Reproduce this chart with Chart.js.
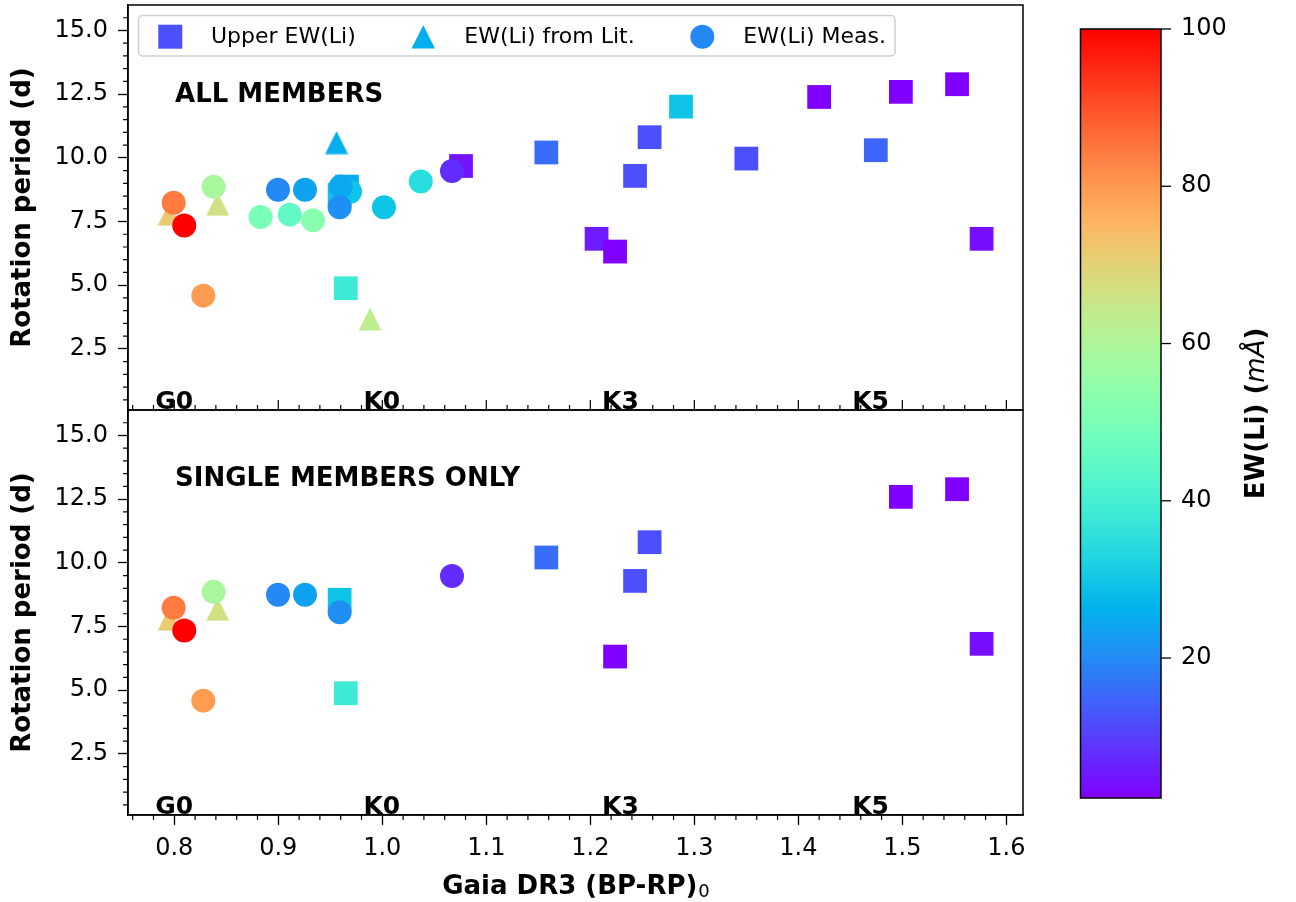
<!DOCTYPE html>
<html>
<head>
<meta charset="utf-8">
<title>Rotation period vs Gaia colour</title>
<script src="https://cdn.jsdelivr.net/npm/chart.js@4.4.1/dist/chart.umd.min.js"></script>
<style>
  html, body { margin: 0; padding: 0; background: #fff; }
  #chart { display: block; }
</style>
</head>
<body>
<canvas id="chart" width="1296" height="902"></canvas>
<script>
// ==================================================
// DATA
// ==================================================
// ALL MEMBERS - upper limits on EW(Li) (squares)
const allUpperX  = [1.243, 1.257, 1.350, 1.4745, 1.1577, 1.0757, 1.2872, 0.959, 0.966, 0.9649, 1.206, 1.2238, 1.420, 1.4986, 1.5526, 1.5762];
const allUpperY  = [9.29, 10.81, 9.97, 10.30, 10.21, 9.68, 12.01, 8.55, 8.87, 4.88, 6.82, 6.32, 12.39, 12.59, 12.89, 6.82];
const allUpperEW = [12, 12, 12, 14.9, 15.9, 4.6, 29.6, 29.6, 25.2, 38.4, 5.6, 2.2, 2.2, 2.2, 2.2, 4];

// ALL MEMBERS - EW(Li) from literature (triangles)
const allLitX  = [0.956, 0.795, 0.8417, 0.9882];
const allLitY  = [10.60, 7.79, 8.18, 3.67];
const allLitEW = [25.7, 71.6, 66.7, 62.8];

// ALL MEMBERS - measured EW(Li) (circles)
const allMeasX  = [0.8997, 0.9257, 0.883, 0.911, 0.9334, 0.8379, 0.7994, 0.8096, 0.8279, 0.969, 0.96, 0.959, 1.0016, 1.037, 1.067];
const allMeasY  = [8.75, 8.75, 7.68, 7.77, 7.55, 8.86, 8.24, 7.34, 4.59, 8.67, 8.87, 8.06, 8.06, 9.07, 9.48];
const allMeasEW = [19.8, 23.7, 50.1, 45.2, 53, 58.9, 84.4, 100, 79.5, 29.6, 24.7, 20.8, 29.6, 34.5, 7.6];

// SINGLE MEMBERS ONLY
const singleUpperX  = [1.243, 1.257, 1.1577, 0.959, 0.9649, 1.2238, 1.4986, 1.5526, 1.5762];
const singleUpperY  = [9.29, 10.81, 10.21, 8.55, 4.88, 6.32, 12.59, 12.89, 6.82];
const singleUpperEW = [12, 12, 15.9, 29.6, 38.4, 2.2, 2.2, 2.2, 4];

const singleLitX  = [0.795, 0.8417];
const singleLitY  = [7.79, 8.18];
const singleLitEW = [71.6, 66.7];

const singleMeasX  = [0.8997, 0.9257, 0.8379, 0.7994, 0.8096, 0.8279, 0.959, 1.067];
const singleMeasY  = [8.75, 8.75, 8.86, 8.24, 7.34, 4.59, 8.06, 9.48];
const singleMeasEW = [19.8, 23.7, 58.9, 84.4, 100, 79.5, 20.8, 7.6];

// axes / labels
const xTicks = [0.8, 0.9, 1.0, 1.1, 1.2, 1.3, 1.4, 1.5, 1.6];
const yTicks = [2.5, 5.0, 7.5, 10.0, 12.5, 15.0];
const xMin = 0.7555, xMax = 1.616;
const yMin = 0.1, yMax = 16;

const spTypes = ["G0", "K0", "K3", "K5"];
const spX = [0.80, 0.9995, 1.229, 1.4695];
const spY = 0.15;

const legendLabels = ["Upper EW(Li)", "EW(Li) from Lit.", "EW(Li) Meas."];

const cbTicks = [20, 40, 60, 80, 100];
const ewMin = 2.2, ewMax = 100;

const FONT = "'DejaVu Sans', sans-serif";

// ==================================================
// HELPERS
// ==================================================
// matplotlib "rainbow" colormap
function rainbow(t) {
  t = Math.max(0, Math.min(1, t));
  const cl = (v) => Math.round(255 * Math.max(0, Math.min(1, v)));
  const r = Math.abs(2 * t - 0.5);
  const g = Math.sin(Math.PI * t);
  const b = Math.cos((Math.PI * t) / 2);
  return `rgb(${cl(r)},${cl(g)},${cl(b)})`;
}
const ewColor = (ew) => rainbow((ew - ewMin) / (ewMax - ewMin));

// matplotlib-like "^" marker (width == height, centred on its box)
function triImg(color) {
  const s = 24;
  const c = document.createElement("canvas");
  c.width = s;
  c.height = s;
  const g = c.getContext("2d");
  g.fillStyle = color;
  g.beginPath();
  g.moveTo(s / 2, 0.5);
  g.lineTo(s - 0.5, s - 0.5);
  g.lineTo(0.5, s - 0.5);
  g.closePath();
  g.fill();
  return c;
}

const toPoints = (xs, ys) => xs.map((x, i) => ({ x: x, y: ys[i] }));

function upperSet(xs, ys, ews, axis) {
  const colors = ews.map(ewColor);
  return {
    label: legendLabels[0], yAxisID: axis, order: 3,
    data: toPoints(xs, ys),
    pointStyle: "rect", pointRadius: 16.8, pointBorderWidth: 0,
    pointBackgroundColor: colors, pointBorderColor: colors,
  };
}
function litSet(xs, ys, ews, axis) {
  const colors = ews.map(ewColor);
  return {
    label: legendLabels[1], yAxisID: axis, order: 2,
    data: toPoints(xs, ys),
    pointStyle: colors.map(triImg), pointRadius: 12, pointBorderWidth: 0,
    pointBackgroundColor: colors, pointBorderColor: colors,
  };
}
function measSet(xs, ys, ews, axis) {
  const colors = ews.map(ewColor);
  return {
    label: legendLabels[2], yAxisID: axis, order: 1,
    data: toPoints(xs, ys),
    pointStyle: "circle", pointRadius: 12, pointBorderWidth: 0,
    pointBackgroundColor: colors, pointBorderColor: colors,
  };
}

// ==================================================
// PLUGIN: frames, minor ticks, texts, legend, colorbar
// ==================================================
const decorPlugin = {
  id: "decor",
  afterDatasetsDraw(chart) {
    const { ctx, chartArea: a, scales } = chart;
    const x = scales.x, yTop = scales.yTop, yBot = scales.yBot;
    ctx.save();

    // panel frames
    ctx.strokeStyle = "#000";
    ctx.lineWidth = 1.5;
    ctx.strokeRect(a.left, yTop.top, a.right - a.left, yTop.bottom - yTop.top);
    ctx.strokeRect(a.left, yBot.top, a.right - a.left, yBot.bottom - yBot.top);

    // minor y ticks
    ctx.lineWidth = 1.2;
    ctx.beginPath();
    [yTop, yBot].forEach((ys) => {
      for (let i = 1; i < 32; i++) {
        if (i % 5 === 0) continue;
        const py = ys.getPixelForValue(i * 0.5);
        ctx.moveTo(a.left - 5, py);
        ctx.lineTo(a.left, py);
      }
    });
    // minor x ticks (bottom axis and between the panels)
    for (let i = 38; i <= 80; i++) {
      if (i % 5 === 0) continue;
      const px = x.getPixelForValue(i * 0.02);
      ctx.moveTo(px, a.bottom);
      ctx.lineTo(px, a.bottom + 5);
      ctx.moveTo(px, yTop.bottom);
      ctx.lineTo(px, yTop.bottom - 5);
    }
    xTicks.forEach((v) => {
      const px = x.getPixelForValue(v);
      ctx.moveTo(px, yTop.bottom);
      ctx.lineTo(px, yTop.bottom - 10);
    });
    ctx.stroke();

    // panel titles
    ctx.fillStyle = "#000";
    ctx.font = `bold 26px ${FONT}`;
    ctx.textAlign = "left";
    ctx.textBaseline = "alphabetic";
    ctx.fillText("ALL MEMBERS", x.getPixelForValue(0.8007), yTop.getPixelForValue(12.2));
    ctx.fillText("SINGLE MEMBERS ONLY", x.getPixelForValue(0.8007), yBot.getPixelForValue(13.03));

    // spectral types
    ctx.font = `bold 25px ${FONT}`;
    ctx.textAlign = "center";
    [yTop, yBot].forEach((ys) => {
      spTypes.forEach((s, i) => {
        ctx.fillText(s, x.getPixelForValue(spX[i]), ys.getPixelForValue(spY));
      });
    });

    // x axis title with a real subscript
    const main = "Gaia DR3 (BP-RP)", sub = "0";
    ctx.font = `bold 26px ${FONT}`;
    const wMain = ctx.measureText(main).width;
    ctx.font = `18px ${FONT}`;
    const wSub = ctx.measureText(sub).width;
    const tx = (a.left + a.right) / 2 - (wMain + wSub) / 2;
    const ty = 894;
    ctx.textAlign = "left";
    ctx.font = `bold 26px ${FONT}`;
    ctx.fillText(main, tx, ty);
    ctx.font = `18px ${FONT}`;
    ctx.fillText(sub, tx + wMain + 1, ty + 3);

    // legend
    const lx = 138.5, ly = 15.5, lw = 756.5, lh = 40.5;
    ctx.beginPath();
    ctx.roundRect(lx, ly, lw, lh, 4);
    ctx.fillStyle = "rgba(255,255,255,0.8)";
    ctx.fill();
    ctx.strokeStyle = "#d0d0d0";
    ctx.lineWidth = 1.5;
    ctx.stroke();
    const my = 36.7;
    const sets = chart.data.datasets;
    // square
    ctx.fillStyle = sets[0].pointBackgroundColor[0];
    ctx.fillRect(170.3 - 12, my - 12, 24, 24);
    // triangle
    ctx.fillStyle = sets[1].pointBackgroundColor[0];
    ctx.beginPath();
    ctx.moveTo(423.3, my - 11.7);
    ctx.lineTo(423.3 + 11.7, my + 11.7);
    ctx.lineTo(423.3 - 11.7, my + 11.7);
    ctx.closePath();
    ctx.fill();
    // circle
    ctx.fillStyle = sets[2].pointBackgroundColor[0];
    ctx.beginPath();
    ctx.arc(702.3, my, 12, 0, Math.PI * 2);
    ctx.fill();
    ctx.fillStyle = "#000";
    ctx.font = `22px ${FONT}`;
    ctx.textAlign = "left";
    ctx.textBaseline = "alphabetic";
    ctx.fillText(legendLabels[0], 211, 43.3);
    ctx.fillText(legendLabels[1], 464.3, 43.3);
    ctx.fillText(legendLabels[2], 743.3, 43.3);

    ctx.restore();
  },

  afterDraw(chart) {
    const { ctx } = chart;
    // colorbar
    const cx = 1080.5, cy = 29, cw = 80.5, ch = 769;
    const valToY = (v) => cy + ch - ((v - ewMin) / (ewMax - ewMin)) * ch;
    ctx.save();
    const grad = ctx.createLinearGradient(0, cy + ch, 0, cy);
    for (let i = 0; i <= 64; i++) grad.addColorStop(i / 64, rainbow(i / 64));
    ctx.fillStyle = grad;
    ctx.fillRect(cx, cy, cw, ch);
    ctx.strokeStyle = "#000";
    ctx.lineWidth = 1.5;
    ctx.strokeRect(cx, cy, cw, ch);

    ctx.lineWidth = 1.3;
    ctx.fillStyle = "#000";
    ctx.font = `24px ${FONT}`;
    ctx.textAlign = "left";
    ctx.textBaseline = "middle";
    cbTicks.forEach((v) => {
      const py = valToY(v);
      ctx.beginPath();
      ctx.moveTo(cx + cw, py);
      ctx.lineTo(cx + cw + 10, py);
      ctx.stroke();
      ctx.fillText(String(v), cx + cw + 20, py);
    });

    // colorbar label, rotated
    const parts = [
      { t: "EW(Li) (", f: `bold 26px ${FONT}` },
      { t: "mÅ", f: `italic 26px ${FONT}` },
      { t: ")", f: `bold 26px ${FONT}` },
    ];
    let total = 0;
    parts.forEach((p) => { ctx.font = p.f; p.w = ctx.measureText(p.t).width; total += p.w; });
    ctx.translate(1257, cy + ch / 2);
    ctx.rotate(-Math.PI / 2);
    let pos = -total / 2;
    parts.forEach((p) => {
      ctx.font = p.f;
      ctx.fillText(p.t, pos, 0);
      pos += p.w;
    });
    ctx.restore();
  },
};

// ==================================================
// CHART
// ==================================================
const yAxis = (weight) => ({
  type: "linear",
  position: "left",
  stack: "panels",
  stackWeight: 1,
  weight: weight,
  min: yMin,
  max: yMax,
  afterFit: (s) => { s.width = 128; s.paddingTop = 0; s.paddingBottom = 0; },
  afterBuildTicks: (s) => { s.ticks = yTicks.map((v) => ({ value: v })); },
  ticks: {
    autoSkip: false,
    padding: 10,
    color: "#000",
    font: { family: FONT, size: 24 },
    callback: (v) => Number(v).toFixed(1),
  },
  grid: { display: true, drawOnChartArea: false, drawTicks: true, tickLength: 10, tickWidth: 1.3, tickColor: "#000" },
  border: { display: true, color: "#000", width: 1.5 },
  title: {
    display: true,
    text: "Rotation period (d)",
    color: "#000",
    font: { family: FONT, size: 26, weight: "bold" },
    padding: { top: 8, bottom: 0 },
  },
});

const ctx = document.getElementById("chart").getContext("2d");
const chart = new Chart(ctx, {
  type: "scatter",
  data: {
    datasets: [
      upperSet(allUpperX, allUpperY, allUpperEW, "yTop"),
      litSet(allLitX, allLitY, allLitEW, "yTop"),
      measSet(allMeasX, allMeasY, allMeasEW, "yTop"),
      upperSet(singleUpperX, singleUpperY, singleUpperEW, "yBot"),
      litSet(singleLitX, singleLitY, singleLitEW, "yBot"),
      measSet(singleMeasX, singleMeasY, singleMeasEW, "yBot"),
    ],
  },
  options: {
    responsive: false,
    animation: false,
    layout: { autoPadding: false, padding: { top: 5, right: 273, bottom: 0, left: 0 } },
    plugins: { legend: { display: false }, tooltip: { enabled: false } },
    scales: {
      x: {
        type: "linear",
        position: "bottom",
        min: xMin,
        max: xMax,
        afterFit: (s) => { s.height = 87; s.paddingLeft = 0; s.paddingRight = 0; },
        afterBuildTicks: (s) => { s.ticks = xTicks.map((v) => ({ value: v })); },
        ticks: {
          autoSkip: false,
          maxRotation: 0,
          padding: 9,
          color: "#000",
          font: { family: FONT, size: 24 },
          callback: (v) => Number(v).toFixed(1),
        },
        grid: { display: true, drawOnChartArea: false, drawTicks: true, tickLength: 10, tickWidth: 1.3, tickColor: "#000" },
        border: { display: true, color: "#000", width: 1.5 },
        title: { display: false },
      },
      yTop: yAxis(2),
      yBot: yAxis(1),
    },
  },
  plugins: [decorPlugin],
});
</script>
</body>
</html>
